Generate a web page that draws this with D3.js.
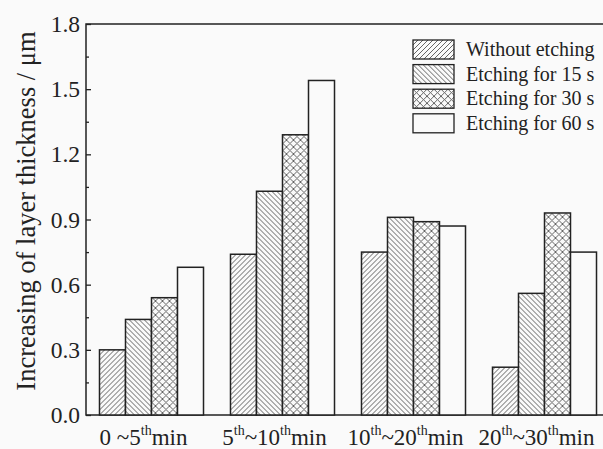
<!DOCTYPE html>
<html>
<head>
<meta charset="utf-8">
<script src="https://cdn.jsdelivr.net/npm/d3@7"></script>
<style>
  body { margin: 0; background: #fafafa; }
  svg { display: block; font-family: "Liberation Serif", "Times New Roman", serif; }
</style>
</head>
<body>
<svg class="chart" width="603" height="449"></svg>
<script>
// data
var categories = ["0 ~5th min", "5th~10th min", "10th~20th min", "20th~30th min"];
// label pieces: [text, isSuperscript]
var categoryLabels = [
  [["0 ~5", 0], ["th", 1], ["min", 0]],
  [["5", 0], ["th", 1], ["~10", 0], ["th", 1], ["min", 0]],
  [["10", 0], ["th", 1], ["~20", 0], ["th", 1], ["min", 0]],
  [["20", 0], ["th", 1], ["~30", 0], ["th", 1], ["min", 0]]
];
var seriesNames = ["Without etching", "Etching for 15 s", "Etching for 30 s", "Etching for 60 s"];
var withoutEtching = [0.30, 0.74, 0.75, 0.22];
var etching15 = [0.44, 1.03, 0.91, 0.56];
var etching30 = [0.54, 1.29, 0.89, 0.93];
var etching60 = [0.68, 1.54, 0.87, 0.75];
var yTicks = [0, 0.3, 0.6, 0.9, 1.2, 1.5, 1.8];
var yMinorTicks = [0.15, 0.45, 0.75, 1.05, 1.35, 1.65];

var seriesValues = [withoutEtching, etching15, etching30, etching60];
var patternIds = ["hatchA", "hatchB", "hatchC", null];

var chart = d3.select("svg.chart"),
    pLeft = 86, pTop = 24, pBottom = 415, pRight = 610;

var x0 = d3.scaleBand().domain(categories).range([pLeft, pRight]).paddingInner(0.206).paddingOuter(0.103);
var x1 = d3.scaleBand().domain(d3.range(seriesNames.length)).range([0, x0.bandwidth()]);
var y = d3.scaleLinear().domain([0, 1.8]).range([pBottom, pTop]);

// patterns
var defs = chart.append("defs");
function hatch(id, paths, size) {
  var p = defs.append("pattern").attr("id", id)
    .attr("patternUnits", "userSpaceOnUse").attr("width", size).attr("height", size);
  p.append("rect").attr("width", size).attr("height", size).attr("fill", "#fafafa");
  paths.forEach(function (d) {
    p.append("path").attr("d", d).attr("stroke", "#555").attr("stroke-width", 0.9).attr("fill", "none");
  });
}
hatch("hatchA", ["M0,5 L5,0", "M-1,1 L1,-1", "M4,6 L6,4"], 5);
hatch("hatchB", ["M0,0 L5,5", "M-1,4 L1,6", "M4,-1 L6,1"], 5);
hatch("hatchC", ["M0,0 L7,7", "M0,7 L7,0"], 7);

// frame
chart.append("rect").attr("x", pLeft).attr("y", pTop)
  .attr("width", pRight - pLeft).attr("height", pBottom - pTop)
  .attr("fill", "none").attr("stroke", "#222").attr("stroke-width", 1.5);

// bars
var groups = chart.selectAll("g.grp")
  .data(categories)
  .enter().append("g").attr("class", "grp")
  .attr("transform", function (d) { return "translate(" + x0(d) + ",0)"; });

groups.selectAll("rect")
  .data(function (d, i) { return seriesValues.map(function (s, k) { return { k: k, v: s[i] }; }); })
  .enter().append("rect")
  .attr("x", function (d) { return x1(d.k); })
  .attr("y", function (d) { return y(d.v); })
  .attr("width", x1.bandwidth())
  .attr("height", function (d) { return pBottom - y(d.v); })
  .attr("fill", function (d) { return patternIds[d.k] ? "url(#" + patternIds[d.k] + ")" : "#fafafa"; })
  .attr("stroke", "#222").attr("stroke-width", 1.5);

// y axis
var yAxis = d3.axisLeft(y).tickValues(yTicks).tickFormat(d3.format(".1f"))
  .tickSizeInner(-5).tickSizeOuter(0).tickPadding(6);
var yMinor = d3.axisLeft(y).tickValues(yMinorTicks).tickFormat("").tickSizeInner(-3).tickSizeOuter(0);

var yG = chart.append("g").attr("transform", "translate(" + pLeft + ",0)").call(yAxis);
chart.append("g").attr("transform", "translate(" + pLeft + ",0)").call(yMinor);
chart.selectAll(".domain").remove();
chart.selectAll(".tick line").attr("stroke", "#222").attr("stroke-width", 1.3);
yG.selectAll("text").attr("font-size", 23.5).attr("fill", "#222")
  .attr("font-family", "Liberation Serif, serif");

chart.append("text")
  .attr("transform", "translate(35," + 211 + ") rotate(-90)")
  .attr("text-anchor", "middle")
  .attr("font-size", 26.5).attr("fill", "#222")
  .text("Increasing of layer thickness / \u03bcm");

// x labels
var xAxis = d3.axisBottom(x0).tickSize(0).tickFormat("");
var xG = chart.append("g").attr("transform", "translate(0," + pBottom + ")").call(xAxis);
xG.select(".domain").remove();
xG.selectAll(".tick").each(function (d, i) {
  var t = d3.select(this).append("text")
    .attr("x", -8).attr("y", 30)
    .attr("text-anchor", "middle")
    .attr("font-size", 23).attr("fill", "#222")
    .attr("font-family", "Liberation Serif, serif");
  categoryLabels[i].forEach(function (part, j) {
    var prevSup = j > 0 && categoryLabels[i][j - 1][1];
    t.append("tspan")
      .attr("font-size", part[1] ? 14 : 23)
      .attr("dy", part[1] ? -10 : (prevSup ? 10 : 0))
      .text(part[0]);
  });
});

// legend
var legend = chart.append("g").selectAll("g")
  .data(seriesNames)
  .enter().append("g")
  .attr("transform", function (d, i) { return "translate(413," + (40 + i * 24.6) + ")"; });

legend.append("rect")
  .attr("width", 41).attr("height", 19)
  .attr("fill", function (d, i) { return patternIds[i] ? "url(#" + patternIds[i] + ")" : "#fafafa"; })
  .attr("stroke", "#222").attr("stroke-width", 1.3);

legend.append("text")
  .attr("x", 53).attr("y", 16)
  .attr("font-size", 20).attr("fill", "#222")
  .text(function (d) { return d; });
</script>
</body>
</html>
